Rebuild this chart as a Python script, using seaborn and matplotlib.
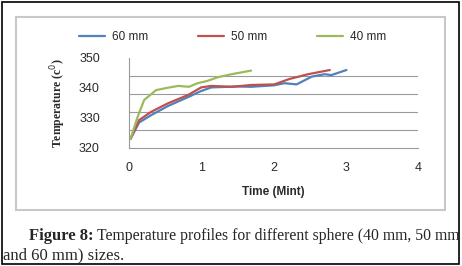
import pandas as pd
import matplotlib.pyplot as plt
import matplotlib.patches as patches
import seaborn as sns

# Temperature profiles
t_60 = [0.02, 0.14, 0.31, 0.54, 0.82, 1.0, 1.14, 1.5, 1.69, 2.01, 2.15, 2.32, 2.53, 2.71, 2.8, 3.01]
temp_60 = [323, 328.5, 331, 334, 337, 339, 340.2, 340.5, 340.4, 340.9, 341.6, 341.2, 343.8, 344.6, 344.3, 346]

t_50 = [0.02, 0.14, 0.31, 0.54, 0.82, 1.0, 1.14, 1.42, 1.69, 2.01, 2.22, 2.48, 2.78]
temp_50 = [323, 329.3, 332.1, 334.9, 337.7, 340.2, 340.7, 340.4, 341, 341.2, 343, 344.6, 346]

t_40 = [0.02, 0.12, 0.21, 0.375, 0.54, 0.68, 0.83, 0.95, 1.09, 1.23, 1.42, 1.69]
temp_40 = [323, 330.4, 336, 339.3, 340.1, 340.7, 340.4, 341.6, 342.4, 343.6, 344.6, 345.8]

sizes = ['60 mm', '50 mm', '40 mm']
colors = ['#4F81BD', '#C0504D', '#9BBB59']

frames = []
for name, t, temp in zip(sizes, [t_60, t_50, t_40], [temp_60, temp_50, temp_40]):
    frames.append(pd.DataFrame({'time': t, 'temp': temp, 'size': name}))
df = pd.concat(frames, ignore_index=True)

sns.set_style('white')
plt.rcParams['font.family'] = ['Liberation Sans', 'DejaVu Sans']

fig = plt.figure(figsize=(4.62, 2.66), dpi=100)
W, H = 462, 266

# outer black frame and the light grey chart box
fig.patches.append(patches.Rectangle((2 / W, 2 / H), 457 / W, 262 / H, transform=fig.transFigure,
                                     fill=False, edgecolor='black', linewidth=1.2))
fig.patches.append(patches.Rectangle((16 / W, 1 - 210 / H), 429 / W, 193 / H, transform=fig.transFigure,
                                     fill=False, edgecolor='#c8c8c8', linewidth=1.5))

ax = fig.add_axes([129 / W, 1 - 148 / H, 289 / W, 90 / H])
sns.lineplot(data=df, x='time', y='temp', hue='size', palette=colors, ax=ax,
             linewidth=1.6, sort=False, legend=True)

ax.set_xlim(0, 4)
ax.set_ylim(320, 350)
ax.set_xticks([0, 1, 2, 3, 4])
ax.set_yticks([320, 330, 340, 350])
ax.set_yticks([320, 326, 332, 338, 344, 350], minor=True)
ax.grid(which='minor', axis='y', color='#9a9a9a', linewidth=0.8)
ax.grid(which='major', visible=False)
ax.tick_params(axis='both', which='both', length=0, labelsize=9, colors='#2a2a2a')
ax.tick_params(axis='y', pad=21)
ax.tick_params(axis='x', pad=10)
for s in ['top', 'right']:
    ax.spines[s].set_visible(False)
for s in ['left', 'bottom']:
    ax.spines[s].set_color('#9a9a9a')
    ax.spines[s].set_linewidth(0.8)

ax.set_xlabel('Time (Mint)', fontsize=8.5, fontweight='bold', color='#2a2a2a', labelpad=9)
ax.set_ylabel('Temperature (c$^{0}$)', fontsize=8.5, fontweight='bold', family='Liberation Serif',
              color='#2a2a2a', labelpad=8)

ax.legend(loc='center left', bbox_to_anchor=(-0.173, 1.235), ncol=3, frameon=False, fontsize=8.5,
          handlelength=2.2, handletextpad=0.6, columnspacing=4.2, borderpad=0, borderaxespad=0)

# caption: bold label followed by normal text
lab = fig.text(29 / W, 1 - 236 / H, 'Figure 8:', fontsize=12, fontweight='bold',
               family='Liberation Serif', va='center', ha='left')
fig.canvas.draw()
bb = lab.get_window_extent()
fig.text((bb.x1 + 3) / W, 1 - 236 / H, 'Temperature profiles for different sphere (40 mm, 50 mm',
         fontsize=11.3, family='Liberation Serif', va='center', ha='left')
fig.text(3 / W, 1 - 255 / H, 'and 60 mm) sizes.', fontsize=12, family='Liberation Serif',
         va='center', ha='left')

fig.savefig('out.png', dpi=100)
